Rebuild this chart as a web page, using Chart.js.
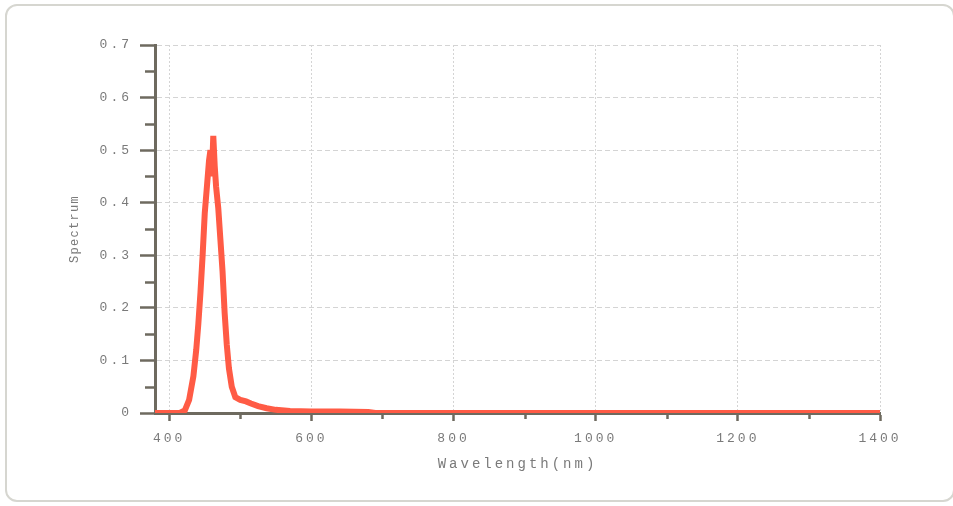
<!DOCTYPE html>
<html>
<head>
<meta charset="utf-8">
<script src="https://cdn.jsdelivr.net/npm/chart.js@4"></script>
<style>
  html, body { margin: 0; padding: 0; background: #fff; }
  #wrap { position: relative; width: 953px; height: 506px; overflow: hidden; }
  #frame {
    position: absolute; left: 5px; top: 4px; width: 950px; height: 498px;
    border: 2px solid #d6d6d0; border-radius: 12px; box-sizing: border-box;
  }
  #chart { position: absolute; left: 0; top: 0; }
</style>
</head>
<body>
<div id="wrap">
  <div id="frame"></div>
  <canvas id="chart" width="953" height="506"></canvas>
</div>
<script>
// Spectrum data
const wavelengths = [380, 400, 415, 422, 428, 434, 438, 441, 444, 447, 450, 453, 456, 458, 460, 462, 464, 466, 469, 472, 475, 478, 481, 484, 488, 493, 500, 508, 515, 525, 537, 550, 570, 600, 640, 680, 690, 800, 1000, 1200, 1400];
const spectrum = [0, 0, 0, 0.005, 0.025, 0.07, 0.12, 0.17, 0.23, 0.30, 0.38, 0.43, 0.48, 0.50, 0.45, 0.527, 0.47, 0.43, 0.39, 0.33, 0.27, 0.19, 0.13, 0.085, 0.05, 0.03, 0.025, 0.022, 0.018, 0.013, 0.009, 0.006, 0.004, 0.003, 0.003, 0.002, 0, 0, 0, 0, 0];

const xTicks = [400, 600, 800, 1000, 1200, 1400];
const xMinorTicks = [500, 700, 900, 1100, 1300];
const yTicks = [0, 0.1, 0.2, 0.3, 0.4, 0.5, 0.6, 0.7];
const yMinorTicks = [0.05, 0.15, 0.25, 0.35, 0.45, 0.55, 0.65];

const AXIS_COLOR = '#6e6a5f';
const GRID_COLOR = '#d4d4d4';
const TEXT_COLOR = '#7a7a7a';

// spaced-out lettering like the original bitmap font
const letterSpacingPlugin = {
    id: 'letterSpacing',
    beforeUpdate(chart) { chart.ctx.letterSpacing = '3px'; },
    beforeDraw(chart) { chart.ctx.letterSpacing = '3px'; }
};

// short minor tick marks on both axes
const minorTicksPlugin = {
    id: 'minorTicks',
    afterDraw(chart) {
        const ctx = chart.ctx;
        const x = chart.scales.x;
        const y = chart.scales.y;
        const area = chart.chartArea;
        ctx.save();
        ctx.strokeStyle = AXIS_COLOR;
        ctx.lineWidth = 2.5;
        yMinorTicks.forEach(v => {
            const py = Math.round(y.getPixelForValue(v)) + 0.5;
            ctx.beginPath();
            ctx.moveTo(area.left - 10, py);
            ctx.lineTo(area.left, py);
            ctx.stroke();
        });
        xMinorTicks.forEach(v => {
            const px = Math.round(x.getPixelForValue(v)) + 0.5;
            ctx.beginPath();
            ctx.moveTo(px, area.bottom);
            ctx.lineTo(px, area.bottom + 6);
            ctx.stroke();
        });
        ctx.restore();
    }
};

new Chart(document.getElementById('chart'), {
    type: 'line',
    data: {
        datasets: [{
            data: wavelengths.map((w, i) => ({ x: w, y: spectrum[i] })),
            borderColor: '#ff5b45',
            borderWidth: 6,
            pointRadius: 0,
            tension: 0,
            fill: false
        }]
    },
    options: {
        responsive: false,
        animation: false,
        layout: { padding: { top: 45, right: 73, left: 0, bottom: 0 } },
        plugins: {
            legend: { display: false },
            tooltip: { enabled: false }
        },
        scales: {
            x: {
                type: 'linear',
                min: 380,
                max: 1400,
                afterFit(scale) { scale.height = 93; },
                afterBuildTicks(scale) { scale.ticks = xTicks.map(v => ({ value: v })); },
                grid: {
                    color: GRID_COLOR,
                    lineWidth: 1,
                    tickLength: 8,
                    tickColor: AXIS_COLOR,
                    tickWidth: 2.5
                },
                border: { color: AXIS_COLOR, width: 3, dash: [2, 2] },
                ticks: {
                    color: TEXT_COLOR,
                    font: { family: 'Liberation Mono', size: 13 },
                    padding: 10,
                    maxRotation: 0,
                    callback: v => String(v)
                },
                title: {
                    display: true,
                    text: 'Wavelength(nm)',
                    color: TEXT_COLOR,
                    font: { family: 'Liberation Mono', size: 14 },
                    padding: { top: 0, bottom: 33 }
                }
            },
            y: {
                min: 0,
                max: 0.7,
                afterFit(scale) {
                    scale.width = 155;
                    // tighter lettering for the vertical title
                    if (!scale._titleWrapped) {
                        const orig = scale.drawTitle;
                        scale.drawTitle = function() {
                            const c = this.ctx;
                            c.letterSpacing = '1.3px';
                            orig.apply(this, arguments);
                            c.letterSpacing = '3px';
                        };
                        scale._titleWrapped = true;
                    }
                },
                afterBuildTicks(scale) { scale.ticks = yTicks.map(v => ({ value: v })); },
                grid: {
                    color: ctx => (ctx.tick && ctx.tick.value === 0) ? 'rgba(0,0,0,0)' : GRID_COLOR,
                    lineWidth: 1,
                    tickLength: 15,
                    tickColor: AXIS_COLOR,
                    tickWidth: 2.5
                },
                border: { color: AXIS_COLOR, width: 3, dash: [5, 3] },
                ticks: {
                    color: TEXT_COLOR,
                    font: { family: 'Liberation Mono', size: 13 },
                    padding: 8,
                    callback: v => v === 0 ? '0' : v.toFixed(1)
                },
                title: {
                    display: true,
                    text: 'Spectrum',
                    color: TEXT_COLOR,
                    font: { family: 'Liberation Mono', size: 12 },
                    padding: { top: 68, bottom: 0 }
                }
            }
        }
    },
    plugins: [letterSpacingPlugin, minorTicksPlugin]
});
</script>
</body>
</html>
